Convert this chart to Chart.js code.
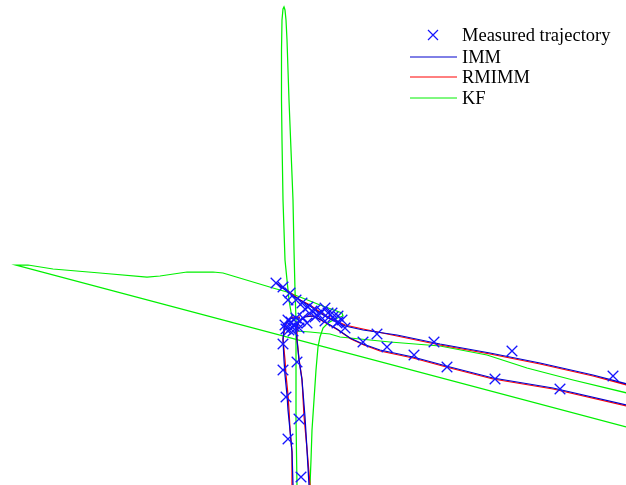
<!DOCTYPE html>
<html>
<head>
<meta charset="utf-8">
<script src="https://cdn.jsdelivr.net/npm/chart.js@4/dist/chart.umd.min.js"></script>
<style>
  html, body { margin: 0; padding: 0; background: #ffffff; }
  #wrap { width: 626px; height: 485px; position: relative; }
</style>
</head>
<body>
<div id="wrap"><canvas id="c" width="626" height="485"></canvas></div>
<script>
// Positions in metres, intersection centre at the origin.
const seriesNames = ['Measured trajectory', 'IMM', 'RMIMM', 'KF'];

const measured = [
  [-3.5, -9.5], [-3.5, -22.5], [-2, -36], [-1, -57],
  [3.5, -18.5], [4.5, -47], [5.5, -76],
  [27.5, -1.5], [43.5, -4.5], [72, -8.5], [111, -13], [161.5, -25.5],
  [36.5, -8.5], [48.5, -11], [62, -15], [78.5, -21], [102.5, -27], [135, -32],
  [-7, 21], [-3.5, 19], [0, 16], [-1, 12.5], [3, 12.5], [6, 11], [7.5, 8], [9, 9],
  [11, 7], [12.5, 7.5], [13.5, 5], [16, 6.5], [17.5, 8.5], [19, 6], [21, 6], [21.5, 4],
  [24, 4.5], [24, 1.5], [26, 2.5], [23.5, 1], [17.5, 2], [6.5, 3.5], [8.5, 1], [12.5, 4],
  [-2.5, 0], [-1, 2.5], [0.5, 1.5], [2, -0.5], [3.5, 1], [4.5, -1.5], [-0.5, -2.5],
  [-2, -2], [1.5, -3], [5, 2], [3, 3.5], [1, -1]
];

const immTrackA = [
  [-7, 21], [-3, 18], [1, 15], [5, 12.5], [10, 9.5], [15, 6], [20, 3], [27.5, -0.5],
  [36.5, -2.5], [53.5, -5], [75, -9.5], [100, -14], [125, -19], [151.5, -25], [168.5, -29.5]
];
const immTrackB = [
  [9.5, -80], [8.5, -62.5], [7.5, -46], [6, -27.5], [4.5, -17.5], [3.5, -7.5], [3, -2.5],
  [4, 1.5], [7.5, 4], [11.5, 4.5], [17.5, 1.5], [23.5, -2], [30, -6.5], [36.5, -9.5],
  [45, -12.5], [61.5, -16], [80, -21], [101.5, -26.5], [131.5, -31.5], [168.5, -40]
];
const immTrackC = [
  [5, 3.5], [1, 3.5], [-1.5, 2], [-3, -1.5], [-3.5, -7.5], [-3, -17.5], [-2.5, -25],
  [-1.5, -35], [-1, -42.5], [0, -52.5], [1, -63.5], [1.5, -80]
];

const rmimmTrackA = [
  [-7, 21], [-3, 18.5], [1, 15.5], [5, 12.5], [10, 10], [15, 6.5], [20, 3.5], [27.5, 0],
  [36.5, -2], [53.5, -5.5], [75, -10], [100, -14.5], [125, -19.5], [151.5, -25.5], [168.5, -30]
];
const rmimmTrackB = [
  [10, -80], [8.5, -62], [7, -45.5], [6, -27], [4.5, -17], [3.5, -7], [3.5, -2],
  [4.5, 2], [8, 4.5], [12, 4.5], [18, 1], [24, -2.5], [30.5, -7], [37, -10],
  [45, -13], [61.5, -16.5], [80, -21.5], [101.5, -27], [131.5, -32], [168.5, -40.5]
];
const rmimmTrackC = [
  [5, 4], [1.5, 4], [-1, 2.5], [-2.5, -1], [-3.5, -7], [-2.5, -17.5], [-2, -25],
  [-1, -35], [-0.5, -42.5], [0, -52.5], [1, -63.5], [1, -80]
];

const kfTrackA = [
  [10, -80], [10.5, -67.5], [11, -52.5], [12, -37.5], [13, -22.5], [14, -11], [15, -6],
  [16.5, -1.5], [19, 1], [22.5, 3], [26.5, 4.5], [26, 6], [15, 10], [5, 14], [-1.5, 16.5],
  [-8.5, 18.5], [-33.5, 26], [-38.5, 26.5], [-51.5, 26.5], [-65, 24.5], [-71.5, 24],
  [-95, 26], [-118.5, 28], [-131, 30], [-137, 30], [168, -51]
];
const kfTrackB = [
  [1, 3.5], [-0.5, 12.5], [-1.5, 22.5], [-2.5, 32.5], [-3.5, 62.5], [-4, 92.5],
  [-4.25, 112.5], [-4.25, 137.5], [-4, 152.5], [-3.5, 158], [-3, 159], [-2.5, 157.5],
  [-2, 152.5], [-1.5, 142.5], [-0.5, 112.5], [0.5, 87.5], [1.5, 62.5], [2, 37.5],
  [2.5, 17.5], [3, 2.5], [3, -17.5], [3, -47.5], [3.5, -80]
];
const kfTrackC = [
  [3, -3], [10, -3.5], [20, -4.5], [25, -6], [50, -8.5], [75, -10.5], [98.5, -15],
  [118.5, -21.5], [141.5, -27.5], [168.5, -34]
];

const toXY = arr => arr.map(p => ({ x: p[0], y: p[1] }));

const seriesStyle = {
  'Measured trajectory': { color: 'rgb(20,20,255)' },
  'IMM': { color: 'rgb(0,0,205)' },
  'RMIMM': { color: 'rgb(255,0,0)' },
  'KF': { color: 'rgb(0,240,0)' }
};

function trackDataset(name, track, order) {
  return {
    label: name,
    data: toXY(track),
    showLine: true,
    borderColor: seriesStyle[name].color,
    borderWidth: 1.25,
    pointRadius: 0,
    pointHoverRadius: 0,
    fill: false,
    tension: 0,
    order: order
  };
}

const datasets = [
  {
    label: 'Measured trajectory',
    data: toXY(measured),
    showLine: false,
    pointStyle: 'crossRot',
    pointRadius: 7.5,
    pointBorderWidth: 1.3,
    pointBorderColor: seriesStyle['Measured trajectory'].color,
    borderColor: seriesStyle['Measured trajectory'].color,
    order: 0
  },
  trackDataset('IMM', immTrackA, 1),
  trackDataset('IMM', immTrackB, 1),
  trackDataset('IMM', immTrackC, 1),
  trackDataset('RMIMM', rmimmTrackA, 2),
  trackDataset('RMIMM', rmimmTrackB, 2),
  trackDataset('RMIMM', rmimmTrackC, 2),
  trackDataset('KF', kfTrackA, 3),
  trackDataset('KF', kfTrackB, 3),
  trackDataset('KF', kfTrackC, 3)
];

// Legend box in the upper right corner, one row per series
const legendBox = {
  id: 'legendBox',
  afterDraw(chart) {
    const ctx = chart.ctx;
    const rowsY = [35, 57, 77, 98];
    const lineX0 = 410, lineX1 = 457, textX = 462, markX = 433;
    ctx.save();
    ctx.font = '18.5px "Liberation Serif", "Times New Roman", serif';
    ctx.textBaseline = 'middle';
    ctx.textAlign = 'left';
    seriesNames.forEach((name, i) => {
      const y = rowsY[i];
      const col = seriesStyle[name].color;
      ctx.strokeStyle = col;
      ctx.lineWidth = 1;
      if (i === 0) {
        ctx.lineWidth = 1.2;
        ctx.beginPath();
        ctx.moveTo(markX - 5, y - 5); ctx.lineTo(markX + 5, y + 5);
        ctx.moveTo(markX - 5, y + 5); ctx.lineTo(markX + 5, y - 5);
        ctx.stroke();
      } else {
        ctx.beginPath();
        ctx.moveTo(lineX0, y); ctx.lineTo(lineX1, y);
        ctx.stroke();
      }
      ctx.fillStyle = '#000000';
      ctx.fillText(name, textX, y + 1);
    });
    ctx.restore();
  }
};

new Chart(document.getElementById('c'), {
  type: 'scatter',
  data: { datasets },
  options: {
    responsive: false,
    devicePixelRatio: 1,
    animation: false,
    layout: { padding: 0, autoPadding: false },
    scales: {
      x: { type: 'linear', min: -145, max: 168, display: false },
      y: { type: 'linear', min: -80, max: 162.5, display: false }
    },
    plugins: {
      legend: { display: false },
      tooltip: { enabled: false }
    }
  },
  plugins: [legendBox]
});
</script>
</body>
</html>
